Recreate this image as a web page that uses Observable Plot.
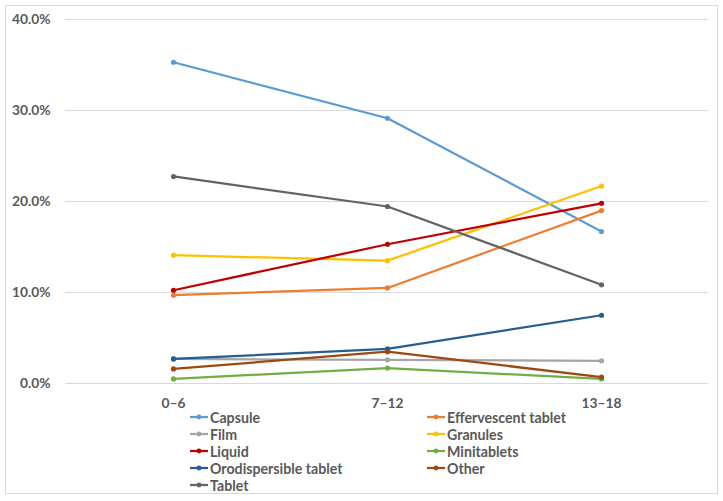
<!DOCTYPE html>
<html>
<head>
<meta charset="utf-8">
<script src="https://cdn.jsdelivr.net/npm/d3@7"></script>
<script src="https://cdn.jsdelivr.net/npm/@observablehq/plot@0.6"></script>
<style>
  body { margin: 0; background: #fff; }
  #chart { position: relative; width: 723px; height: 501px; font-family: Lato, "Open Sans", sans-serif; }
  #frame { position: absolute; left: 5px; top: 5px; width: 713px; height: 489px; border: 1px solid #d9d9d9; box-sizing: border-box; }
  #plot { position: absolute; left: 0; top: 0; }
  .leg { position: absolute; display: flex; align-items: center; font-size: 14.2px; font-weight: 700; color: #595959; white-space: nowrap; line-height: 17px; }
  .leg svg { margin-right: 2px; }
</style>
</head>
<body>
<div id="chart">
  <div id="frame"></div>
  <div id="plot"></div>
</div>
<script>
const ageGroups = ["0–6", "7–12", "13–18"];
const seriesNames = ["Capsule", "Effervescent tablet", "Film", "Granules", "Liquid", "Minitablets", "Orodispersible tablet", "Other", "Tablet"];
const seriesColors = ["#5B9BD5", "#ED7D31", "#A5A5A5", "#FFC000", "#C00000", "#70AD47", "#255E91", "#9E480E", "#636363"];
const capsule = [35.3, 29.15, 16.7];
const effervescentTablet = [9.7, 10.5, 19.0];
const film = [2.7, 2.6, 2.5];
const granules = [14.1, 13.5, 21.7];
const liquid = [10.25, 15.3, 19.8];
const minitablets = [0.5, 1.7, 0.5];
const orodispersibleTablet = [2.7, 3.8, 7.5];
const other = [1.6, 3.5, 0.7];
const tablet = [22.75, 19.45, 10.85];
const yTicks = [0, 10, 20, 30, 40];

const seriesValues = [capsule, effervescentTablet, film, granules, liquid, minitablets, orodispersibleTablet, other, tablet];
const rows = [];
seriesNames.forEach((name, i) => {
  ageGroups.forEach((g, j) => rows.push({ series: name, age: g, value: seriesValues[i][j] }));
});

const chart = Plot.plot({
  width: 723,
  height: 420,
  marginLeft: 65,
  marginRight: 15,
  marginTop: 19,
  marginBottom: 37,
  style: { fontFamily: "Lato, 'Open Sans', sans-serif", fontSize: "13.8px", fontWeight: 700, color: "#595959", background: "transparent" },
  x: { type: "point", domain: ageGroups, padding: 0.5, label: null },
  y: { domain: [0, 40], label: null },
  color: { domain: seriesNames, range: seriesColors },
  marks: [
    Plot.gridY(yTicks, { stroke: "#d9d9d9", strokeOpacity: 1, strokeWidth: 1 }),
    Plot.axisY(yTicks, { tickSize: 0, tickPadding: 15, tickFormat: d => d.toFixed(1) + "%", label: null, fill: "#595959" }),
    Plot.axisX(ageGroups, { tickSize: 0, tickPadding: 15, label: null, fill: "#595959" }),
    Plot.line(rows, { x: "age", y: "value", z: "series", stroke: "series", strokeWidth: 2.25 }),
    Plot.dot(rows, { x: "age", y: "value", fill: "series", r: 2.6 })
  ]
});
document.getElementById("plot").appendChild(chart);

const chartDiv = document.getElementById("chart");
seriesNames.forEach((name, i) => {
  const col = i % 2, row = Math.floor(i / 2);
  const el = document.createElement("div");
  el.className = "leg";
  el.style.left = (col === 0 ? 190 : 427) + "px";
  el.style.top = (408.5 + row * 17) + "px";
  el.innerHTML = `<svg width="18" height="10"><line x1="0" y1="5" x2="18" y2="5" stroke="${seriesColors[i]}" stroke-width="2.25"/><circle cx="9" cy="5" r="2.4" fill="${seriesColors[i]}"/></svg><span>${name}</span>`;
  chartDiv.appendChild(el);
});
</script>
</body>
</html>
